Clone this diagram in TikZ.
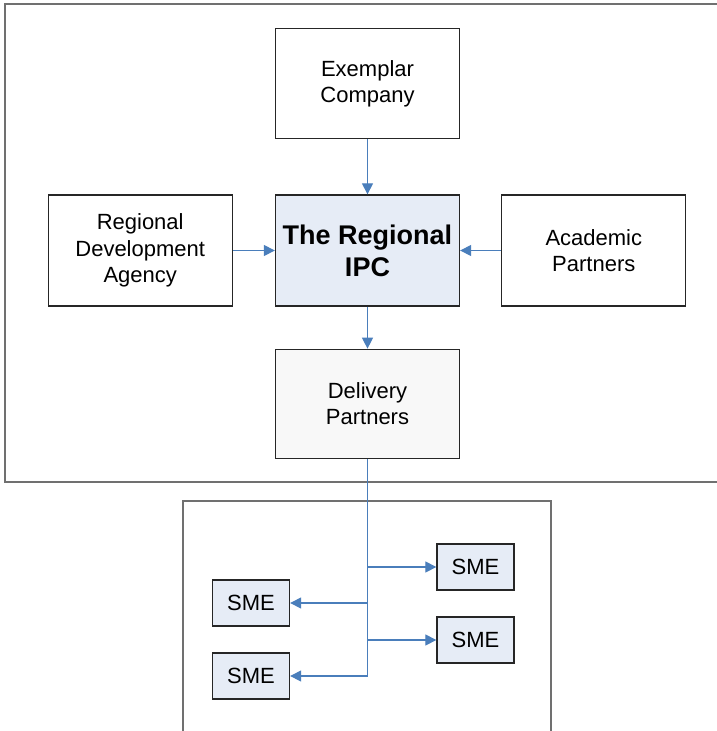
\documentclass[tikz,border=0pt]{standalone}
\usepackage{fontspec}
\setmainfont{Liberation Sans}
\usetikzlibrary{arrows.meta,positioning}

\definecolor{linkblue}{HTML}{4A7EBB}
\definecolor{hubfill}{HTML}{E6ECF6}
\definecolor{palefill}{HTML}{F8F8F8}
\definecolor{framegray}{HTML}{707070}

\begin{document}
\begin{tikzpicture} [
	x=1pt, y=-1pt,
	box/.style = {draw=black!85, line width=1.3pt, align=center, inner sep=0pt,
		minimum width=184pt, minimum height=111pt, font=\fontsize{22}{26.5}\selectfont},
	hub/.style = {box, fill=hubfill, font=\fontsize{27}{32}\selectfont\bfseries},
	sme/.style = {box, fill=hubfill, minimum width=77pt, minimum height=46pt},
	link/.style = {draw=linkblue, line width=1.2pt, -{Triangle[length=11pt,width=11pt]}},
	frame/.style = {draw=framegray, line width=1.5pt},
]
\useasboundingbox (0,0) rectangle (717,731);

% the two frames, both running off the page
\draw [frame] (717,4) -- (5,4) -- (5,482) -- (717,482);
\draw [frame] (183,731) -- (183,501) -- (551,501) -- (551,731);

\node [hub] (ipc) at (367.5,250.5) {The Regional\\IPC};
\node [box, minimum height=110pt, above=55pt of ipc] (exemplar) {Exemplar\\Company};
\node [box, left=42pt of ipc] (rda) {Regional\\Development\\Agency};
\node [box, right=41pt of ipc] (academic) {Academic\\Partners};
\node [box, fill=palefill, minimum height=109pt, below=42pt of ipc] (delivery) {Delivery\\Partners};

\node [sme] (sme1) at (475.5,567) {SME};
\node [sme] (sme2) at (251,603) {SME};
\node [sme] (sme3) at (475.5,640) {SME};
\node [sme] (sme4) at (251,676) {SME};

\draw [link] (exemplar) -- (ipc);
\draw [link] (rda) -- (ipc);
\draw [link] (academic) -- (ipc);
\draw [link] (ipc) -- (delivery);

% trunk down from the delivery partners, branching out to each SME
\draw [link] (delivery.south) |- (sme4.east);
\foreach \s in {sme1,sme2,sme3}
	\draw [link] (delivery.south |- \s.center) -- (\s);
\end{tikzpicture}
\end{document}
